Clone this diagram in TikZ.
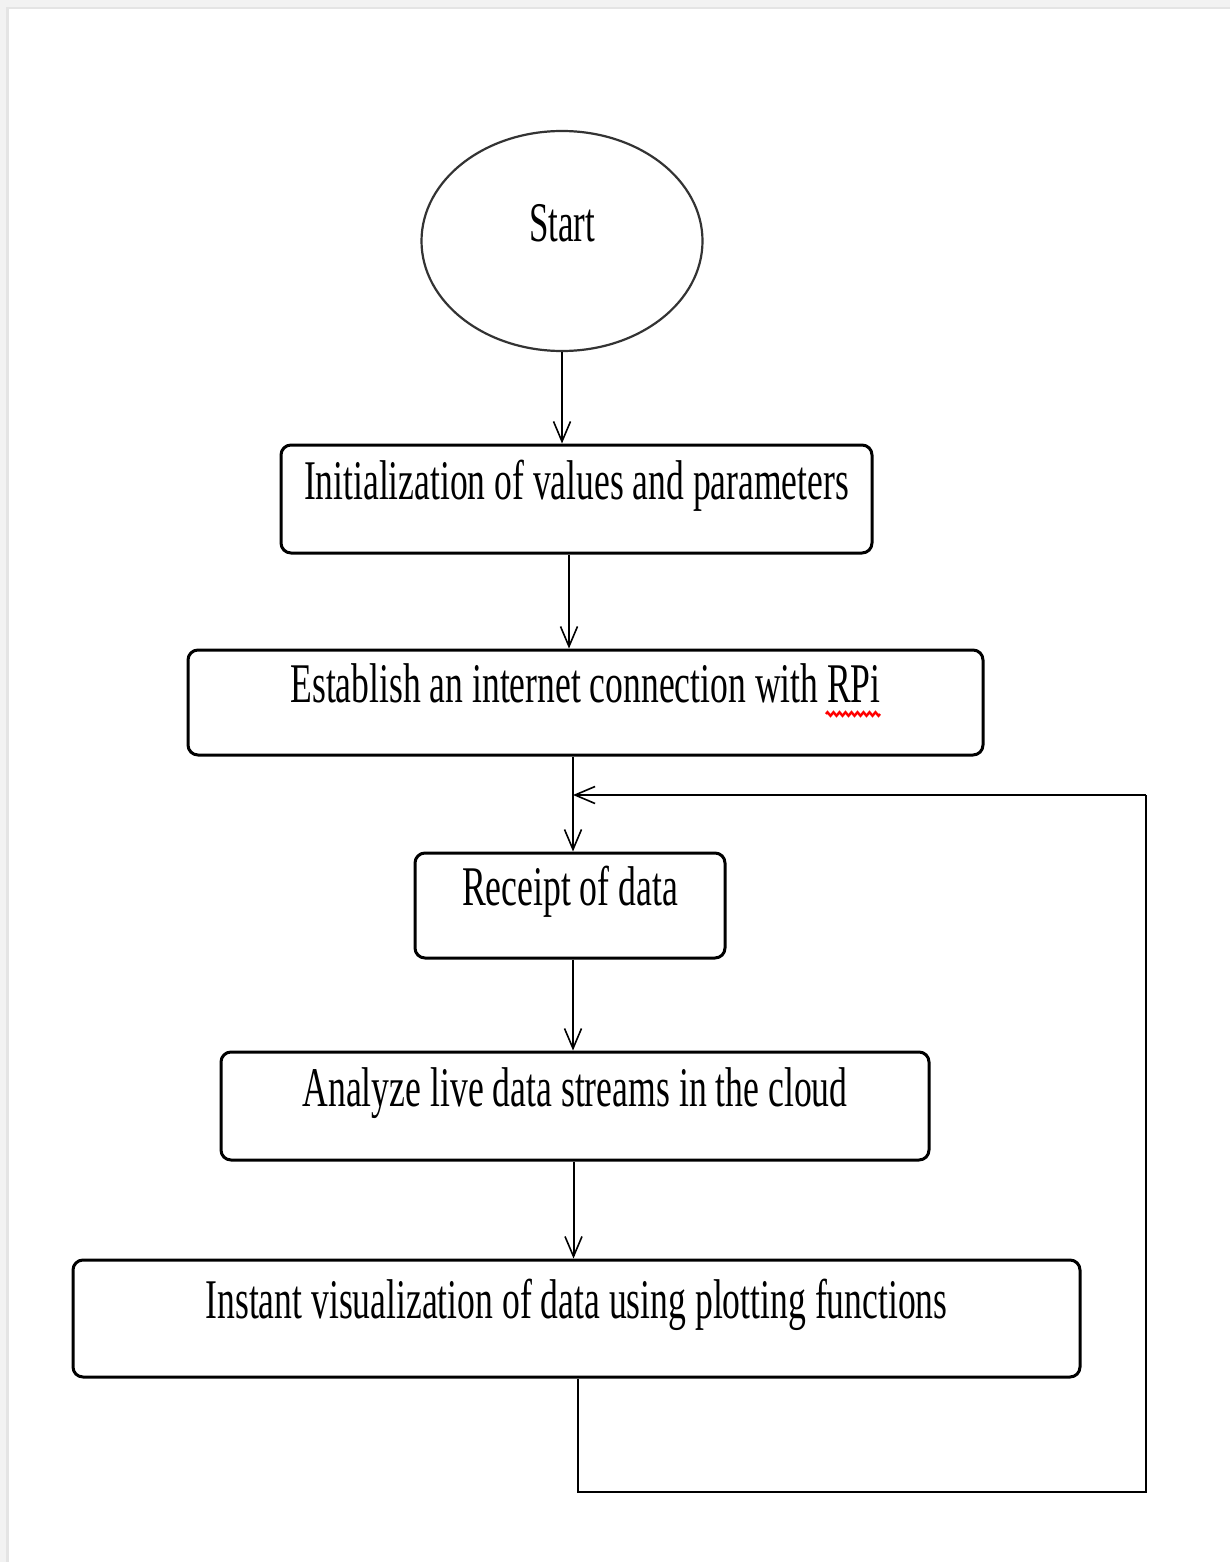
\documentclass[tikz,border=0pt]{standalone}
\usepackage{fontspec}
\setmainfont{Liberation Serif}
\usepackage{graphicx}
\usetikzlibrary{shapes.geometric,arrows.meta,calc,decorations.pathmorphing}
\newcommand\fctxt[2]{\resizebox{#1}{\height}{#2}}
\definecolor{bgray}{HTML}{F2F2F2}
\definecolor{bline}{HTML}{E4E4E4}
\tikzset{
  fcbox/.style={draw=black, line width=3pt, rounded corners=10pt, rectangle,
    text height=0pt, text depth=0pt, inner sep=0pt,
    font=\fontsize{56}{60}\selectfont},
  fcstart/.style={draw=black!80, line width=2.2pt, ellipse, inner sep=0pt,
    text height=0pt, text depth=0pt,
    font=\fontsize{56}{60}\selectfont},
  fcarr/.style={draw=black, line width=2pt,
    -{Straight Barb[length=20pt,width=17pt,line width=1.6pt]}},
  fcline/.style={draw=black, line width=2.5pt}
}
\begin{document}
\begin{tikzpicture}[x=1pt,y=-1pt]
\useasboundingbox (0,0) rectangle (1230,1562);
\fill[bgray] (0,0) rectangle (1230,1562);
\fill[bline] (6,7) rectangle (1230,1562);
\fill[white] (8.5,9.5) rectangle (1230,1562);

\node[fcstart, minimum width=281pt, minimum height=220pt] (start) at (562,241) {\fctxt{66pt}{Start}};
\node[fcbox, minimum width=591pt, minimum height=108pt] (init) at (576.5,499) {\fctxt{545pt}{Initialization of values and parameters}};
\node[fcbox, minimum width=795pt, minimum height=105pt] (est) at (585.5,702.5) {\fctxt{590pt}{Establish an internet connection with RPi}};
\node[fcbox, minimum width=310pt, minimum height=105pt] (rec) at (570,905.5) {\fctxt{216pt}{Receipt of data}};
\node[fcbox, minimum width=708pt, minimum height=108pt] (ana) at (575,1106) {\fctxt{545pt}{Analyze live data streams in the cloud}};
\node[fcbox, minimum width=1007pt, minimum height=117pt] (vis) at (576.5,1318.5) {\fctxt{742pt}{Instant visualization of data using plotting functions}};

% spell-check squiggle under RPi
\draw[red, line width=2.4pt, decorate, decoration={zigzag, segment length=6pt, amplitude=1.8pt}] (826,714) -- (880,714);

\draw[fcarr] (start.south) -- (start.south |- init.north);
\draw[fcarr] ([xshift=-7.5pt]init.south) -- ([xshift=-7.5pt]init.south |- est.north);
\draw[fcarr] ([xshift=-12.5pt]est.south) -- ([xshift=-12.5pt]est.south |- rec.north);
\draw[fcarr] ([xshift=3pt]rec.south) -- ([xshift=3pt]rec.south |- ana.north);
\draw[fcarr] ([xshift=-1.5pt]ana.south) -- ([xshift=-1.5pt]ana.south |- vis.north);

\coordinate (entry) at (573,795);
\coordinate (lpr) at (1146,795);
\coordinate (lpb) at (1146,1492);
\draw[fcline] ([xshift=1.5pt]vis.south) |- (lpb) -- (lpr);
\draw[fcarr] (lpr) -- (entry);
\end{tikzpicture}
\end{document}
